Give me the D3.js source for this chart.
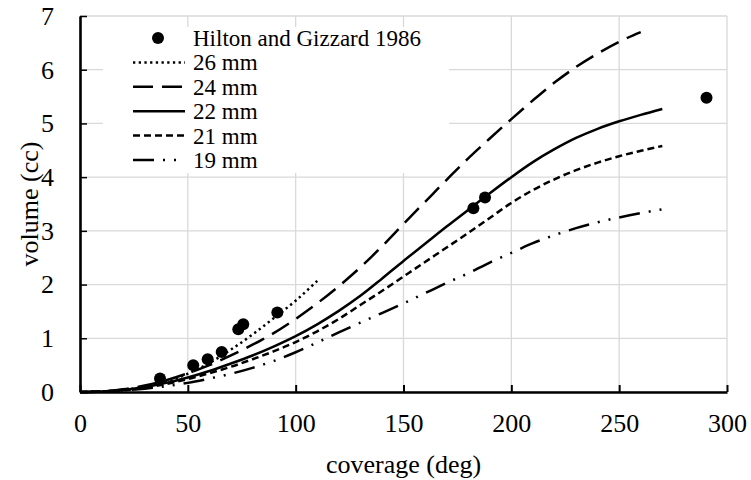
<!DOCTYPE html>
<html><head><meta charset="utf-8">
<script src="https://cdn.jsdelivr.net/npm/d3@7"></script>
<style>
body{margin:0;background:#fff}
svg{display:block}
svg text{font-family:'Liberation Serif','Tinos','Times New Roman','Noto Serif','DejaVu Serif',serif !important;fill:#000}
</style>
</head><body><svg id="c" width="751" height="480"></svg>
<script>
// ---- data ----
const xTicks = [0, 50, 100, 150, 200, 250, 300];
const yTicks = [0, 1, 2, 3, 4, 5, 6, 7];
const xTitle = "coverage (deg)";
const yTitle = "volume (cc)";

const hiltonCov = [37.1, 52.5, 59.2, 65.7, 73.4, 75.7, 91.5, 182.4, 187.8, 290.5];
const hiltonVol = [0.25, 0.50, 0.61, 0.745, 1.17, 1.26, 1.48, 3.42, 3.62, 5.48];

const cov26 = [0, 10, 20, 30, 40, 50, 60, 70, 80, 90, 100, 110];
const vol26 = [0, 0.01, 0.04, 0.10, 0.20, 0.34, 0.54, 0.79, 1.07, 1.38, 1.70, 2.07];

const cov24 = [0,10,20,30,40,50,60,70,80,90,100,110,120,130,140,150,160,170,180,190,200,210,220,230,240,250,260];
const vol24 = [0,0.01,0.05,0.12,0.22,0.35,0.50,0.68,0.88,1.10,1.36,1.65,1.97,2.32,2.71,3.13,3.54,3.95,4.35,4.72,5.08,5.43,5.76,6.05,6.30,6.52,6.70];

const covLong = [0,10,20,30,40,50,60,70,80,90,100,110,120,130,140,150,160,170,180,190,200,210,220,230,240,250,260,270];
const vol22 = [0,0.01,0.04,0.09,0.17,0.27,0.39,0.53,0.68,0.85,1.04,1.26,1.51,1.79,2.11,2.44,2.76,3.08,3.39,3.70,4.00,4.28,4.52,4.73,4.90,5.04,5.16,5.27];
const vol21 = [0,0.01,0.03,0.08,0.15,0.24,0.35,0.47,0.61,0.76,0.93,1.13,1.36,1.62,1.88,2.15,2.42,2.69,2.96,3.24,3.52,3.76,3.96,4.13,4.27,4.39,4.49,4.58];
const vol19 = [0,0.01,0.03,0.06,0.11,0.17,0.25,0.34,0.45,0.58,0.74,0.92,1.11,1.29,1.47,1.65,1.84,2.03,2.21,2.41,2.59,2.77,2.92,3.05,3.16,3.25,3.33,3.40];

const seriesNames = ["Hilton and Gizzard 1986", "26 mm", "24 mm", "22 mm", "21 mm", "19 mm"];
const seriesDash = [null, "2.3,3.4", "20,9", null, "7,4", "21,9,2,9,2,9"];

// ---- chart ----
const FONT = "'Liberation Serif','Tinos','Times New Roman','Noto Serif','DejaVu Serif',serif";
const svg = d3.select("#c");
const x = d3.scaleLinear().domain([0, 300]).range([80, 727]);
const y = d3.scaleLinear().domain([0, 7]).range([392, 16]);

// grid
svg.append("g").selectAll("line").data(yTicks).join("line")
  .attr("x1", x(0)).attr("x2", x(300)).attr("y1", d => y(d)).attr("y2", d => y(d))
  .attr("stroke", "#d9d9d9").attr("stroke-width", 1.3);
svg.append("g").selectAll("line").data(xTicks).join("line")
  .attr("x1", d => x(d)).attr("x2", d => x(d)).attr("y1", y(0)).attr("y2", y(7))
  .attr("stroke", "#d9d9d9").attr("stroke-width", 1.3);

// legend background
const lg = svg.append("g");
lg.append("rect").attr("x", 103).attr("y", 27).attr("width", 346).attr("height", 146).attr("fill", "#fff");

// axes
const xAxis = d3.axisBottom(x).tickValues(xTicks).tickFormat(d3.format("d")).tickSizeInner(-7).tickSizeOuter(0).tickPadding(22);
const gx = svg.append("g").attr("transform", `translate(0,${y(0)})`).call(xAxis).attr("font-family", null);
gx.select(".domain").attr("stroke", "#000").attr("stroke-width", 2.6);
gx.selectAll(".tick line").attr("stroke", "#000").attr("stroke-width", 2);
gx.selectAll(".tick text").attr("font-size", 26).style("font-family", FONT);

const yAxis = d3.axisLeft(y).tickValues(yTicks).tickFormat(d3.format("d")).tickSizeInner(-7).tickSizeOuter(0).tickPadding(26);
const gy = svg.append("g").attr("transform", `translate(${x(0)},0)`).call(yAxis).attr("font-family", null);
gy.select(".domain").attr("stroke", "#000").attr("stroke-width", 2.6);
gy.selectAll(".tick line").attr("stroke", "#000").attr("stroke-width", 1.5);
gy.selectAll(".tick text").attr("font-size", 26).style("font-family", FONT);

svg.append("text").attr("x", (x(0) + x(300)) / 2).attr("y", 473).attr("text-anchor", "middle")
  .attr("font-size", 26).style("font-family", FONT).text(xTitle);
svg.append("text").attr("transform", `translate(38,${(y(0) + y(7)) / 2}) rotate(-90)`).attr("text-anchor", "middle")
  .attr("font-size", 26).style("font-family", FONT).text(yTitle);

// lines
const line = d3.line().x(d => x(d[0])).y(d => y(d[1])).curve(d3.curveMonotoneX);
const series = [
  {c: cov26, v: vol26, dash: seriesDash[1]},
  {c: cov24, v: vol24, dash: seriesDash[2]},
  {c: covLong, v: vol22, dash: seriesDash[3]},
  {c: covLong, v: vol21, dash: seriesDash[4]},
  {c: covLong, v: vol19, dash: seriesDash[5]}
];
svg.append("g").selectAll("path").data(series).join("path")
  .attr("d", s => line(s.c.map((c, i) => [c, s.v[i]])))
  .attr("fill", "none").attr("stroke", "#000").attr("stroke-width", 2.5)
  .attr("stroke-dasharray", s => s.dash);

// points
svg.append("g").selectAll("circle").data(hiltonCov.map((c, i) => [c, hiltonVol[i]])).join("circle")
  .attr("cx", d => x(d[0])).attr("cy", d => y(d[1])).attr("r", 6).attr("fill", "#000");

// legend entries
const rowY = d3.range(seriesNames.length).map(i => 38 + i * 24.4);
seriesNames.forEach((name, i) => {
  if (i === 0) {
    lg.append("circle").attr("cx", 158).attr("cy", rowY[i]).attr("r", 6).attr("fill", "#000");
  } else {
    lg.append("line").attr("x1", 133).attr("x2", 185).attr("y1", rowY[i]).attr("y2", rowY[i])
      .attr("stroke", "#000").attr("stroke-width", 2.5).attr("stroke-dasharray", seriesDash[i]);
  }
  lg.append("text").attr("x", 193).attr("y", rowY[i]).attr("dy", "0.35em").attr("font-size", 23)
    .style("font-family", FONT).text(name);
});
</script>
</body></html>
